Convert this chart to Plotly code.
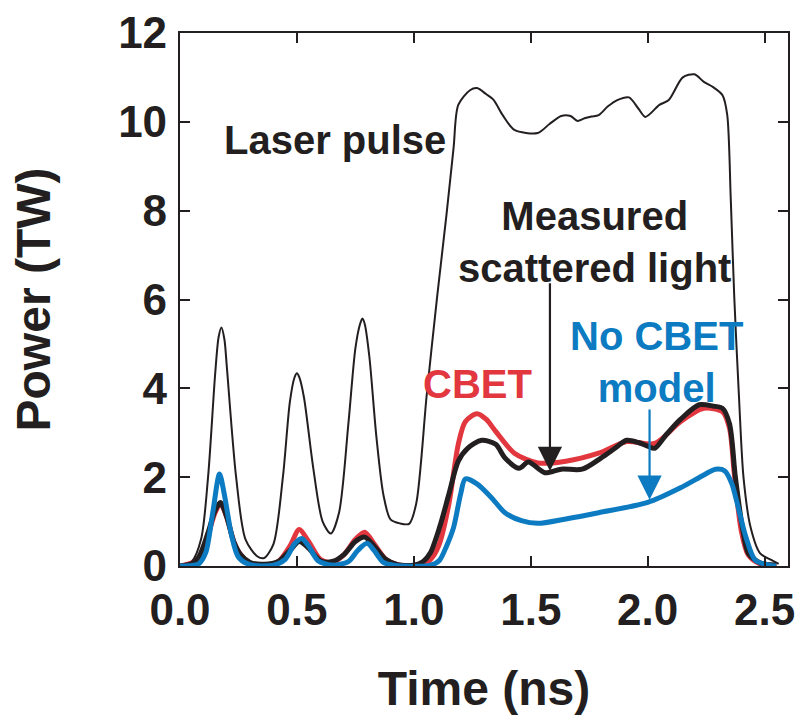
import plotly.graph_objects as go

# Laser pulse power (TW) vs time (ns)
laser_t = [0.00, 0.05, 0.09, 0.12, 0.15, 0.165, 0.177, 0.19, 0.20, 0.24, 0.28, 0.33, 0.36, 0.40,
           0.44, 0.47, 0.49, 0.50, 0.51, 0.53, 0.57, 0.61, 0.645, 0.68, 0.72, 0.75, 0.77, 0.78,
           0.79, 0.81, 0.84, 0.87, 0.90, 0.94, 0.98, 1.01, 1.055, 1.10, 1.14, 1.17, 1.19, 1.24,
           1.27, 1.31, 1.34, 1.38, 1.43, 1.53, 1.58, 1.63, 1.67, 1.70, 1.73, 1.76, 1.79, 1.83,
           1.87, 1.92, 1.96, 1.99, 2.05, 2.09, 2.15, 2.20, 2.24, 2.28, 2.32, 2.34, 2.355, 2.37,
           2.39, 2.41, 2.44, 2.48, 2.53, 2.56]
laser_p = [0.02, 0.10, 0.60, 2.00, 4.30, 5.15, 5.37, 5.10, 4.50, 2.00, 0.60, 0.22, 0.18, 0.50,
           2.00, 3.70, 4.25, 4.34, 4.25, 3.80, 2.20, 1.00, 0.73, 1.20, 3.20, 4.90, 5.45, 5.57,
           5.45, 4.70, 2.90, 1.60, 1.05, 0.96, 0.95, 1.40, 3.85, 6.08, 7.93, 9.42, 10.38, 10.71,
           10.76, 10.62, 10.50, 10.15, 9.82, 9.75, 9.95, 10.13, 10.13, 10.02, 10.08, 10.12, 10.15, 10.35,
           10.49, 10.55, 10.30, 10.11, 10.38, 10.49, 11.00, 11.07, 10.90, 10.78, 10.60, 10.16, 8.30, 6.08,
           3.85, 1.98, 0.87, 0.29, 0.13, 0.05]

# Measured scattered light
meas_t = [0.00, 0.05, 0.08, 0.12, 0.15, 0.173, 0.20, 0.23, 0.26, 0.30, 0.36, 0.42, 0.47, 0.51,
          0.55, 0.60, 0.65, 0.70, 0.75, 0.79, 0.83, 0.88, 0.93, 1.00, 1.04, 1.07, 1.11, 1.15,
          1.19, 1.23, 1.29, 1.35, 1.39, 1.45, 1.49, 1.56, 1.63, 1.72, 1.80, 1.86, 1.91, 1.96,
          2.00, 2.03, 2.08, 2.14, 2.22, 2.28, 2.32, 2.35, 2.375, 2.405, 2.43, 2.48, 2.55]
meas_p = [0.00, 0.05, 0.20, 0.75, 1.25, 1.43, 1.10, 0.55, 0.25, 0.08, 0.04, 0.10, 0.35, 0.55,
          0.40, 0.12, 0.10, 0.25, 0.55, 0.65, 0.45, 0.15, 0.03, 0.02, 0.10, 0.29, 0.87, 1.62,
          2.36, 2.65, 2.83, 2.74, 2.43, 2.20, 2.34, 2.10, 2.18, 2.18, 2.43, 2.65, 2.83, 2.78,
          2.70, 2.65, 2.96, 3.30, 3.63, 3.60, 3.55, 3.20, 2.00, 0.87, 0.29, 0.07, 0.02]

# Simulation with CBET
cbet_t = [0.00, 0.08, 0.12, 0.15, 0.173, 0.20, 0.23, 0.26, 0.30, 0.36, 0.42, 0.47, 0.51, 0.55,
          0.60, 0.65, 0.70, 0.75, 0.79, 0.83, 0.88, 0.93, 1.00, 1.05, 1.08, 1.11, 1.15, 1.19,
          1.22, 1.27, 1.31, 1.35, 1.43, 1.53, 1.65, 1.79, 1.91, 2.03, 2.14, 2.24, 2.32, 2.35,
          2.37, 2.40, 2.43, 2.48, 2.55]
cbet_p = [0.00, 0.15, 0.70, 1.20, 1.40, 1.10, 0.55, 0.25, 0.06, 0.02, 0.10, 0.45, 0.82, 0.55,
          0.15, 0.08, 0.25, 0.60, 0.76, 0.50, 0.15, 0.03, 0.01, 0.05, 0.20, 0.51, 1.40, 2.74,
          3.25, 3.43, 3.30, 3.03, 2.54, 2.32, 2.36, 2.54, 2.80, 2.76, 3.25, 3.55, 3.47, 3.10,
          2.10, 0.80, 0.25, 0.05, 0.00]

# Simulation without CBET
nocbet_t = [0.00, 0.08, 0.11, 0.14, 0.169, 0.19, 0.22, 0.25, 0.30, 0.40, 0.45, 0.49, 0.52, 0.55,
            0.59, 0.65, 0.72, 0.76, 0.80, 0.83, 0.87, 0.92, 1.05, 1.08, 1.11, 1.14, 1.17, 1.20,
            1.22, 1.27, 1.33, 1.39, 1.46, 1.53, 1.65, 1.79, 2.00, 2.14, 2.24, 2.29, 2.33, 2.36,
            2.38, 2.42, 2.46, 2.52, 2.55]
nocbet_p = [0.00, 0.05, 0.30, 1.20, 2.07, 1.60, 0.70, 0.20, 0.03, 0.02, 0.15, 0.50, 0.62, 0.45,
            0.12, 0.02, 0.10, 0.35, 0.51, 0.35, 0.08, 0.01, 0.00, 0.03, 0.13, 0.45, 0.87, 1.62,
            1.96, 1.85, 1.55, 1.20, 1.02, 0.96, 1.06, 1.20, 1.43, 1.76, 2.05, 2.18, 2.14, 1.85,
            1.47, 0.65, 0.13, 0.02, 0.00]

x_ticks = [0.0, 0.5, 1.0, 1.5, 2.0, 2.5]
y_ticks = [0, 2, 4, 6, 8, 10, 12]

BLACK = "#231F20"
RED = "#E2373F"
BLUE = "#0C7BC1"
FONT = "Liberation Sans, Arial, sans-serif"

fig = go.Figure()
fig.add_trace(go.Scatter(x=laser_t, y=laser_p, mode="lines", name="Laser pulse",
                         line=dict(color=BLACK, width=2, shape="spline", smoothing=0.8)))
fig.add_trace(go.Scatter(x=cbet_t, y=cbet_p, mode="lines", name="CBET",
                         line=dict(color=RED, width=5, shape="spline", smoothing=0.8)))
fig.add_trace(go.Scatter(x=meas_t, y=meas_p, mode="lines", name="Measured scattered light",
                         line=dict(color=BLACK, width=5, shape="spline", smoothing=0.8)))
fig.add_trace(go.Scatter(x=nocbet_t, y=nocbet_p, mode="lines", name="No CBET model",
                         line=dict(color=BLUE, width=5, shape="spline", smoothing=0.8)))

label_font = dict(family=FONT, size=40, color=BLACK)
annotations = [
    dict(x=0.662, y=9.6, text="<b>Laser pulse</b>", showarrow=False, font=label_font),
    dict(x=1.772, y=7.3, text="<b>Measured<br>scattered light</b>", showarrow=False,
         font=label_font, align="center"),
    dict(x=1.274, y=4.1, text="<b>CBET</b>", showarrow=False,
         font=dict(family=FONT, size=40, color=RED)),
    dict(x=2.038, y=4.59, text="<b>No CBET<br>model</b>", showarrow=False,
         font=dict(family=FONT, size=40, color=BLUE), align="center"),
    # arrows pointing at the curves
    dict(x=1.582, y=2.14, ax=1.582, ay=6.4, xref="x", yref="y", axref="x", ayref="y",
         text="", showarrow=True, arrowhead=2, arrowsize=2.2, arrowwidth=2.2, arrowcolor=BLACK),
    dict(x=2.008, y=1.49, ax=2.008, ay=3.56, xref="x", yref="y", axref="x", ayref="y",
         text="", showarrow=True, arrowhead=2, arrowsize=2.2, arrowwidth=2.2, arrowcolor=BLUE),
]

axis_common = dict(showline=True, linecolor=BLACK, linewidth=2.2, mirror="ticks",
                   ticks="inside", ticklen=10, tickwidth=2.2, tickcolor=BLACK,
                   showgrid=False, zeroline=False,
                   tickfont=dict(family=FONT, size=44, color=BLACK))

fig.update_layout(
    width=803, height=722,
    margin=dict(l=180, r=8, t=28, b=156),
    plot_bgcolor="white", paper_bgcolor="white",
    showlegend=False,
    annotations=annotations,
    xaxis=dict(range=[0, 2.6], tickvals=x_ticks, ticktext=[f"<b>{v:.1f}</b>" for v in x_ticks],
               ticklabelstandoff=4,
               title=dict(text="<b>Time (ns)</b>", font=dict(family=FONT, size=48, color=BLACK),
                          standoff=38),
               **axis_common),
    yaxis=dict(range=[0, 12], tickvals=y_ticks, ticktext=[f"<b>{v}</b>" for v in y_ticks],
               ticklabelstandoff=2,
               title=dict(text="<b>Power (TW)</b>", font=dict(family=FONT, size=48, color=BLACK),
                          standoff=52),
               **axis_common),
)

fig.write_html("out.html")
